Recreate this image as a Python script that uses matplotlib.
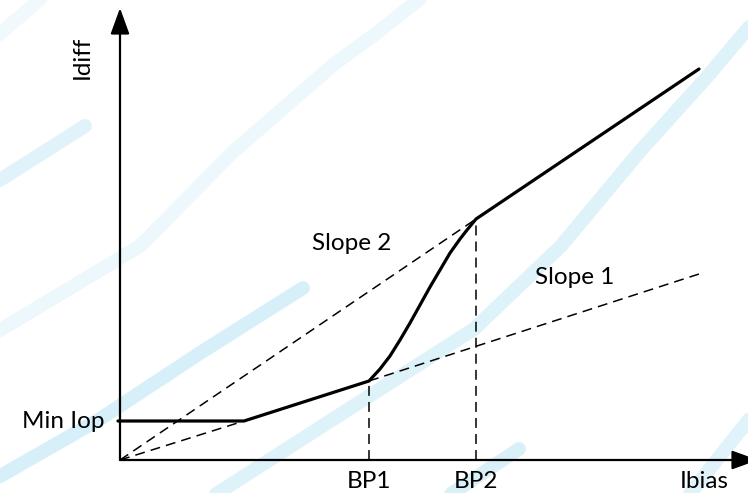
import matplotlib
matplotlib.use("Agg")
import matplotlib.pyplot as plt
import numpy as np

# ---------------- data (chart units) ----------------
min_iop = 0.39                 # Min Iop level
min_iop_end = 1.24             # Ibias where the flat section ends
bp1 = (2.49, 0.79)             # first break point
bp2 = (3.56, 2.41)             # second break point
end_pt = (5.79, 3.91)          # end of characteristic
slope1_end = (5.79, 1.86)      # end of dashed "Slope 1" reference line
curve_x = [2.49, 2.60, 2.70, 2.80, 2.90, 3.00, 3.10, 3.20, 3.30, 3.40, 3.47, 3.56]
curve_y = [0.79, 0.91, 1.04, 1.20, 1.37, 1.55, 1.73, 1.90, 2.07, 2.21, 2.30, 2.41]
x_axis_end = 6.38
y_axis_end = 4.52

tick_labels = ["BP1", "BP2"]
axis_labels = ["Ibias", "Idiff"]
slope_labels = ["Slope 1", "Slope 2"]
level_label = "Min Iop"

# light-blue watermark strokes in the background
wm_c_x = [-1.25, -0.20, 0.80, 1.83]
wm_c_y = [-0.19, 0.41, 1.07, 1.72]
wm_d_x = [0.90, 2.54, 3.54, 4.41, 5.21, 5.87, 6.35]
wm_d_y = [-0.38, 0.67, 1.31, 2.14, 3.10, 3.83, 4.40]
wm_a_x = [-1.25, 0.20, 1.13, 2.13, 2.54, 3.05]
wm_a_y = [1.27, 2.14, 3.08, 3.95, 4.25, 4.65]
wm_b_x = [-1.25, -0.35]
wm_b_y = [2.77, 3.34]
wm_e_x = [3.22, 3.99]
wm_e_y = [-0.40, 0.11]
wm_f_x = [5.65, 6.35]
wm_f_y = [-0.40, 0.48]
wm_g_x = [-1.25, -0.75]
wm_g_y = [4.22, 4.65]

FONT = "Lato"
FS = 17.5

fig = plt.figure(figsize=(7.48, 4.93), dpi=100)
ax = fig.add_axes([0, 0, 1, 1])
ax.set_xlim(-1.20, 6.28)
ax.set_ylim(-0.33, 4.60)
ax.axis("off")

# watermark strokes
wm_col = "#cdebf8"
for xs, ys, lw, a in [(wm_c_x, wm_c_y, 10, 0.8), (wm_d_x, wm_d_y, 10, 0.65),
                      (wm_a_x, wm_a_y, 10, 0.35), (wm_b_x, wm_b_y, 10, 0.6),
                      (wm_e_x, wm_e_y, 10, 0.75), (wm_f_x, wm_f_y, 10, 0.6),
                      (wm_g_x, wm_g_y, 10, 0.25)]:
    ax.plot(xs, ys, color=wm_col, lw=lw, alpha=a, solid_capstyle="round",
            solid_joinstyle="round", zorder=0)

# axes with arrows
astyle = "-|>,head_length=1.6,head_width=0.58"
ax.annotate("", xy=(x_axis_end, 0), xytext=(0, 0),
            arrowprops=dict(arrowstyle=astyle, lw=1.6, color="black",
                            shrinkA=0, shrinkB=0),
            annotation_clip=False, zorder=3)
ax.annotate("", xy=(0, y_axis_end), xytext=(0, 0),
            arrowprops=dict(arrowstyle=astyle, lw=1.6, color="black",
                            shrinkA=0, shrinkB=0),
            annotation_clip=False, zorder=3)

dash = (0, (6.5, 4.0))
dlw = 1.1
# dashed reference lines
ax.plot([0, min_iop_end], [0, min_iop], color="black", lw=dlw, ls=dash, zorder=2)
ax.plot([bp1[0], slope1_end[0]], [bp1[1], slope1_end[1]], color="black", lw=dlw, ls=dash, zorder=2)
ax.plot([0, bp2[0]], [0, bp2[1]], color="black", lw=dlw, ls=dash, zorder=2)
ax.plot([bp1[0], bp1[0]], [0, bp1[1]], color="black", lw=dlw, ls=dash, zorder=2)
ax.plot([bp2[0], bp2[0]], [0, bp2[1]], color="black", lw=dlw, ls=dash, zorder=2)

# characteristic
char_x = [-0.02, min_iop_end, bp1[0]] + curve_x[1:] + [end_pt[0]]
char_y = [min_iop, min_iop, bp1[1]] + curve_y[1:] + [end_pt[1]]
ax.plot(char_x, char_y, color="black", lw=2.3, solid_joinstyle="round",
        solid_capstyle="round", zorder=4)

# texts
ax.text(-0.15, min_iop, level_label, ha="right", va="center", fontsize=FS, family=FONT)
ax.text(bp1[0], -0.21, tick_labels[0], ha="center", va="center", fontsize=FS, family=FONT)
ax.text(bp2[0], -0.21, tick_labels[1], ha="center", va="center", fontsize=FS, family=FONT)
ax.text(5.84, -0.22, axis_labels[0], ha="center", va="center", fontsize=FS, family=FONT)
ax.text(-0.38, 4.03, axis_labels[1], ha="center", va="center", fontsize=FS,
        family=FONT, rotation=90)
ax.text(4.55, 1.83, slope_labels[0], ha="center", va="center", fontsize=FS, family=FONT)
ax.text(2.32, 2.16, slope_labels[1], ha="center", va="center", fontsize=FS, family=FONT)

fig.savefig("out.png", dpi=100, facecolor="white")
